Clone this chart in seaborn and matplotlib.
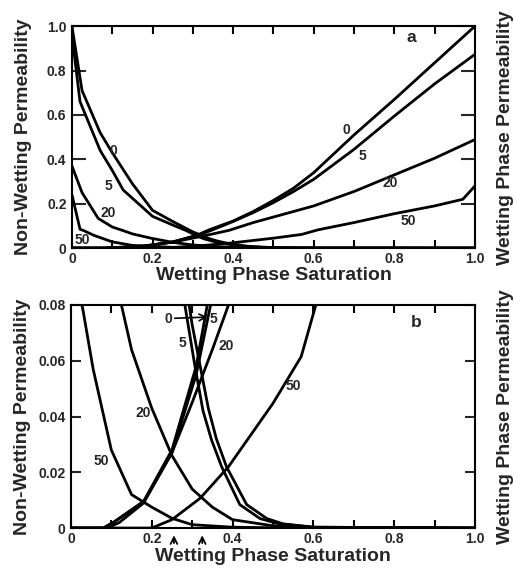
import matplotlib
matplotlib.use("Agg")
import matplotlib.pyplot as plt
import seaborn as sns
import numpy as np

# ---- data ----
# non-wetting phase relative permeability curves (contact angle 0, 5, 20, 50)
S_NW0 = [0, 0.025, 0.07, 0.1, 0.15, 0.2, 0.25, 0.3, 0.32, 0.34, 0.36, 0.385, 0.435, 0.485, 0.525, 0.6, 1.0]
KR_NW0 = [1.0, 0.71, 0.52, 0.43, 0.29, 0.17, 0.12, 0.073, 0.058, 0.043, 0.032, 0.022, 0.0084, 0.0034, 0.0015, 0.0003, 0]
S_NW5 = [0, 0.02, 0.07, 0.1, 0.127, 0.2, 0.25, 0.282, 0.307, 0.327, 0.348, 0.373, 0.418, 0.468, 0.515, 0.6, 1.0]
KR_NW5 = [0.96, 0.66, 0.44, 0.35, 0.262, 0.143, 0.104, 0.08, 0.058, 0.042, 0.0316, 0.022, 0.0084, 0.0034, 0.0015, 0.0003, 0]
S_NW20 = [0, 0.025, 0.065, 0.1, 0.125, 0.15, 0.2, 0.25, 0.3, 0.35, 0.4, 0.5, 0.6, 1.0]
KR_NW20 = [0.37, 0.25, 0.134, 0.095, 0.08, 0.064, 0.043, 0.026, 0.014, 0.0075, 0.003, 0.0008, 0.0002, 0]
S_NW50 = [0, 0.02, 0.03, 0.055, 0.1, 0.15, 0.2, 0.25, 0.3, 0.4, 0.5, 1.0]
KR_NW50 = [0.24, 0.085, 0.078, 0.057, 0.028, 0.012, 0.0075, 0.0035, 0.0012, 0.0003, 0.0001, 0]

# wetting phase relative permeability curves
S_W0 = [0, 0.08, 0.105, 0.18, 0.25, 0.31, 0.34, 0.4, 0.45, 0.5, 0.55, 0.6, 0.7, 0.8, 0.9, 1.0]
KR_W0 = [0, 0, 0.002, 0.0096, 0.028, 0.058, 0.082, 0.122, 0.165, 0.215, 0.27, 0.34, 0.51, 0.67, 0.835, 1.0]
S_W5 = [0, 0.08, 0.105, 0.18, 0.25, 0.31, 0.35, 0.4, 0.45, 0.5, 0.55, 0.6, 0.7, 0.8, 0.9, 1.0]
KR_W5 = [0, 0, 0.002, 0.0094, 0.027, 0.055, 0.083, 0.12, 0.16, 0.205, 0.255, 0.31, 0.445, 0.595, 0.74, 0.873]
S_W20 = [0, 0.09, 0.12, 0.18, 0.25, 0.3, 0.35, 0.39, 0.45, 0.5, 0.6, 0.7, 0.8, 0.9, 1.0]
KR_W20 = [0, 0, 0.002, 0.009, 0.027, 0.045, 0.064, 0.08, 0.115, 0.14, 0.19, 0.255, 0.33, 0.405, 0.489]
S_W50 = [0, 0.2, 0.25, 0.32, 0.39, 0.5, 0.57, 0.61, 0.7, 0.8, 0.9, 0.97, 1.0]
KR_W50 = [0, 0, 0.003, 0.0107, 0.022, 0.0447, 0.0615, 0.082, 0.115, 0.155, 0.19, 0.22, 0.28]

X_TICKS = [0, 0.2, 0.4, 0.6, 0.8, 1.0]
X_TICKLABELS = ["0", "0.2", "0.4", "0.6", "0.8", "1.0"]
YA_TICKS = [0, 0.2, 0.4, 0.6, 0.8, 1.0]
YA_TICKLABELS = ["0", "0.2", "0.4", "0.6", "0.8", "1.0"]
YB_TICKS = [0, 0.02, 0.04, 0.06, 0.08]
YB_TICKLABELS = ["0", "0.02", "0.04", "0.06", "0.08"]

CURVES = [(S_NW0, KR_NW0), (S_NW5, KR_NW5), (S_NW20, KR_NW20), (S_NW50, KR_NW50),
          (S_W0, KR_W0), (S_W5, KR_W5), (S_W20, KR_W20), (S_W50, KR_W50)]

sns.set_theme(style="ticks")
plt.rcParams['font.family'] = ['Liberation Sans', 'DejaVu Sans']
plt.rcParams['font.weight'] = 'bold'

fig = plt.figure(figsize=(5.14, 5.69), dpi=100)
axA = fig.add_axes([0.140, 0.564, 0.784, 0.390])
axB = fig.add_axes([0.138, 0.072, 0.786, 0.392])

LW = 2.0
LABEL_FS = 14
for ax, ylim in ((axA, (0, 1.0)), (axB, (0, 0.08))):
    for s, k in CURVES:
        sns.lineplot(x=s, y=k, ax=ax, color='black', linewidth=LW, sort=False,
                     estimator=None, legend=False)
    ax.set_xlim(0, 1.0)
    ax.set_ylim(*ylim)
    for sp in ax.spines.values():
        sp.set_visible(True)
        sp.set_linewidth(1.5)
        sp.set_color('black')
    ax.set_xticks(X_TICKS)
    ax.set_xticklabels(X_TICKLABELS, fontsize=10, fontweight='bold')
    ax.set_xticks(np.arange(0.1, 1.0, 0.2), minor=True)
    ax.tick_params(axis='x', which='both', direction='in', top=True, bottom=True,
                   length=6, width=1.5, color='black', pad=3)
    ax.set_xlabel("Wetting Phase Saturation", fontsize=LABEL_FS, fontweight='bold', va='top')
    ax.set_ylabel("Non-Wetting Permeability", fontsize=LABEL_FS, fontweight='bold')
    ax.text(1.075, 0.5, "Wetting Phase Permeability", rotation=90, transform=ax.transAxes,
            ha='center', va='center', fontsize=LABEL_FS, fontweight='bold')
    ax.grid(False)

axA.set_yticks(YA_TICKS)
axA.set_yticklabels(YA_TICKLABELS, fontsize=10, fontweight='bold')
axA.tick_params(axis='y', direction='in', left=True, right=True, length=10, width=1.5, pad=4)
axB.set_yticks(YB_TICKS)
axB.set_yticklabels(YB_TICKLABELS, fontsize=10, fontweight='bold')
axB.tick_params(axis='y', direction='in', left=True, right=True, length=7.5, width=1.5, pad=4)

axA.xaxis.set_label_coords(0.5, -0.085)
axA.yaxis.set_label_coords(-0.10, 0.5)
axB.xaxis.set_label_coords(0.5, -0.088)
axB.yaxis.set_label_coords(-0.10, 0.5)

tk = dict(fontsize=10, fontweight='bold', ha='center', va='center')
pk = dict(fontsize=12.5, fontweight='heavy', ha='center', va='center')
# panel a labels
axA.text(0.843, 0.95, "a", **pk)
axA.text(0.104, 0.437, "0", **tk)
axA.text(0.09, 0.279, "5", **tk)
axA.text(0.09, 0.158, "20", **tk)
axA.text(0.026, 0.038, "50", **tk)
axA.text(0.682, 0.531, "0", **tk)
axA.text(0.721, 0.415, "5", **tk)
axA.text(0.789, 0.294, "20", **tk)
axA.text(0.835, 0.121, "50", **tk)

# panel b labels
axB.text(0.855, 0.0737, "b", **pk)
axB.text(0.241, 0.0749, "0", **tk)
axB.text(0.352, 0.0749, "5", **tk)
axB.annotate("", xy=(0.345, 0.0757), xytext=(0.25, 0.0752),
             arrowprops=dict(arrowstyle='->', color='black', lw=1.2))
axB.text(0.276, 0.0665, "5", **tk)
axB.text(0.385, 0.0653, "20", **tk)
axB.text(0.55, 0.0509, "50", **tk)
axB.text(0.179, 0.0413, "20", **tk)
axB.text(0.076, 0.024, "50", **tk)

for xa in (0.255, 0.325):
    axB.annotate("", xy=(xa, -0.02), xytext=(xa, -0.08),
                 xycoords=('data', 'axes fraction'), textcoords=('data', 'axes fraction'),
                 arrowprops=dict(arrowstyle='->', color='black', lw=1.3), annotation_clip=False)

fig.savefig("out.png", dpi=100, facecolor='white')
